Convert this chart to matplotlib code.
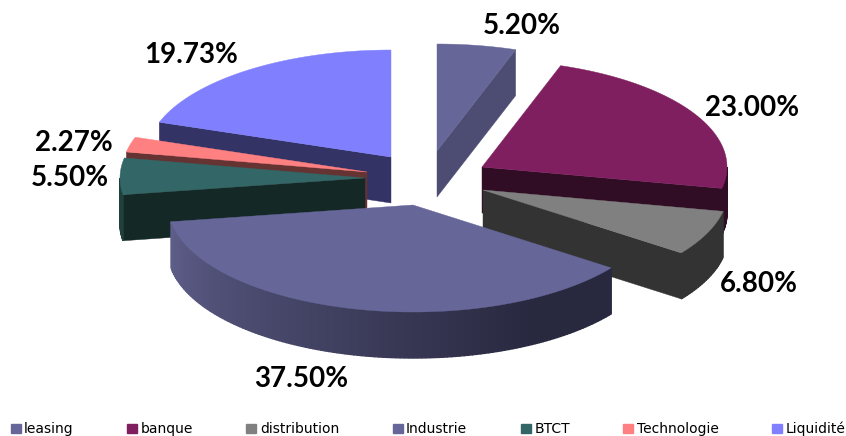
import numpy as np
import matplotlib
matplotlib.use('Agg')
import matplotlib.pyplot as plt
from matplotlib.patches import Patch

categories = ['leasing', 'banque', 'distribution', 'Industrie', 'BTCT', 'Technologie', 'Liquidité']
values = [5.20, 23.00, 6.80, 37.50, 5.50, 2.27, 19.73]

top_colors = ['#666699', '#7f1f5f', '#808080', '#666699', '#336666', '#ff8080', '#8080ff']
wall_colors = ['#4d4d73', '#300c25', '#333333', '#2a2a48', '#142826', '#663333', '#333366']

# sommet de chaque part (pixels), la part est "explosee"
apex_x = [437, 482, 483, 413, 365, 367, 391]
apex_y = [151, 167, 190, 205, 178, 172, 157]
label_x = [522, 752, 759, 301, 70, 74, 191]
label_y = [26, 108, 284, 379, 178, 143, 55]

rx, ry = 245, 107
depth = 46
draw_order = [6, 0, 5, 4, 1, 2, 3]


def rim(i, t):
    # point du bord de l'ellipse, angle en degres depuis midi, sens horaire
    r = np.radians(t)
    return apex_x[i] + rx * np.sin(r), apex_y[i] - ry * np.cos(r)


def radial_wall(ax, i, t, color):
    x, y = rim(i, t)
    ax.fill([apex_x[i], x, x, apex_x[i]],
            [apex_y[i], y, y + depth, apex_y[i] + depth],
            color=color, lw=0.3)


def rim_color(i, t):
    # Industrie: degrade du clair (gauche) vers le sombre (droite)
    if i == 3:
        f = np.interp(t, [150, 261], [0, 1])
        dark = np.array(matplotlib.colors.to_rgb('#28283f'))
        light = np.array(matplotlib.colors.to_rgb('#5e5e8a'))
        return tuple(dark + (light - dark) * f)
    if i == 4:
        return '#1f403d'
    return wall_colors[i]


fig = plt.figure(figsize=(8.46, 4.36), dpi=100)
ax = fig.add_axes([0, 0, 1, 1])
ax.set_xlim(0, 846)
ax.set_ylim(436, 0)
ax.axis('off')

ends = np.cumsum(values) * 3.6
starts = ends - np.array(values) * 3.6

for i in draw_order:
    t1, t2 = starts[i], ends[i]

    # faces radiales visibles
    if np.cos(np.radians(t1 - 90)) < -0.01:
        radial_wall(ax, i, t1, wall_colors[i])
    if np.cos(np.radians(t2 + 90)) < -0.01:
        radial_wall(ax, i, t2, wall_colors[i])

    # bord exterieur, seulement la partie devant
    a, b = max(t1, 90), min(t2, 270)
    if b > a:
        for t in np.arange(a, b, 1.0):
            x1, y1 = rim(i, t)
            x2, y2 = rim(i, min(t + 1.0, b))
            ax.fill([x1, x2, x2, x1], [y1, y2, y2 + depth, y1 + depth],
                    color=rim_color(i, t), lw=1.0)

    # dessus de la part
    ts = np.linspace(t1, t2, 80)
    xs, ys = rim(i, ts)
    ax.fill(np.r_[apex_x[i], xs], np.r_[apex_y[i], ys], color=top_colors[i], lw=0.3)

for i in range(len(values)):
    ax.text(label_x[i], label_y[i], f'{values[i]:.2f}%', family='Lato', weight='bold',
            fontsize=20, ha='center', va='center', color='black')

handles = [Patch(color=c, label=n) for c, n in zip(top_colors, categories)]
ax.legend(handles=handles, ncol=7, loc='center', bbox_to_anchor=(428 / 846, 1 - 429 / 436),
          frameon=False, prop={'family': 'DejaVu Sans', 'size': 10},
          handlelength=0.72, handleheight=0.6, handletextpad=0.25, columnspacing=3.85,
          borderpad=0, borderaxespad=0)

fig.savefig('out.png', dpi=100)
